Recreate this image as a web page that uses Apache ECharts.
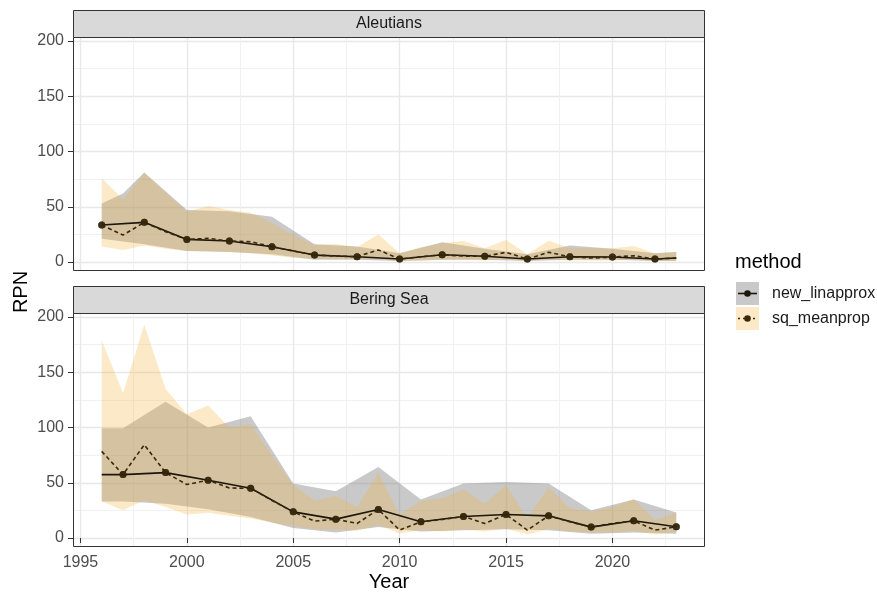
<!DOCTYPE html>
<html>
<head>
<meta charset="utf-8">
<script src="https://cdn.jsdelivr.net/npm/echarts@6/dist/echarts.min.js"></script>
<style>
  html, body { margin: 0; padding: 0; background: #ffffff; }
  #chart { width: 877px; height: 596px; }
</style>
</head>
<body>
<div id="chart"></div>
<script>
// ---- data ---------------------------------------------------------------
const YEARS = [1996, 1997, 1998, 1999, 2000, 2001, 2002, 2003, 2004, 2005,
               2006, 2007, 2008, 2009, 2010, 2011, 2012, 2013, 2014, 2015,
               2016, 2017, 2018, 2019, 2020, 2021, 2022, 2023];
const X_TICKS = [1995, 2000, 2005, 2010, 2015, 2020];
const Y_TICKS = [0, 50, 100, 150, 200];
const REGIONS = ['Aleutians', 'Bering Sea'];
const METHODS = ['new_linapprox', 'sq_meanprop'];

// survey years (observed points)
const aleuSurvey = [1996, 1998, 2000, 2002, 2004, 2006, 2008, 2010, 2012, 2014, 2016, 2018, 2020, 2022];
const beringSurvey = [1997, 1999, 2001, 2003, 2005, 2007, 2009, 2011, 2013, 2015, 2017, 2019, 2021, 2023];

// Aleutians, new_linapprox (null = no vertex in that year)
const aleuNew   = [33.5, null, 35.9, null, 20.5, null, 19.0, null, 13.9, null, 6.3, null, 4.8, null,
                   2.7, null, 6.6, null, 5.2, null, 2.7, null, 4.8, null, 4.5, null, 2.7, 3.6];
const aleuNewLo = [21, null, 16, null, 10, null, 9, null, 7, null, 2, null, 2, null,
                   1, null, 2, null, 2, null, 1, null, 2, null, 2, null, 1, 1];
const aleuNewHi = [53, 62, 81, null, 47, null, 46, null, 41, null, 16, null, 14, null,
                   8, null, 18, null, 12, null, 7, null, 15, null, 12, null, 8, 9];
// Aleutians, sq_meanprop
const aleuSq    = [33.5, 24.4, 35.9, 27.5, 20.5, 21.4, 19.0, 18.4, 13.9, 10, 6.3, 5.5, 4.8, 11,
                   2.7, 4.8, 6.6, 5.4, 5.2, 8.8, 2.7, 8.8, 4.8, 3.6, 4.5, 5.7, 2.7, 3.6];
const aleuSqLo  = [14, 11, 15, 12, 10, 10, 9, 8, 6, 4, 3, 3, 2.5, 2,
                   1, 1.5, 2, 2, 1.5, 2, 1, 2, 1.5, 1.5, 1.5, 2, 1, 1];
const aleuSqHi  = [75.7, 56.7, 80.8, 63, 45.5, 50.7, 47, 44.6, 35, 24.4, 15.4, 16.3, 13.3, 25,
                   7.9, 13.3, 16.9, 19, 12.4, 19.9, 7, 19.3, 12.4, 12.4, 12.4, 14.5, 7.9, 9.3];

// Bering Sea, new_linapprox
const berNew    = [57.4, 57.4, null, 59.2, null, 52.3, null, 45, null, 23.7, null, 17.1, null, 25.8,
                   null, 14.7, null, 19.5, null, 21.3, null, 20.1, null, 9.9, null, 15.6, null, 10.2];
const berNewLo  = [33, 33, null, 31, null, 26, null, 19, null, 9, null, 5, null, 10,
                   null, 6, null, 7, null, 8, null, 7, null, 4, null, 5, null, 4];
const berNewHi  = [99.4, 99.4, null, 123.4, null, 100, null, 110.2, null, 49.3, null, 42.3, null, 64.2,
                   null, 34.8, null, 49.3, null, 50.7, null, 49.3, null, 25.2, null, 34.8, null, 23.1];
// Bering Sea, sq_meanprop
const berSq     = [78.4, 57.4, 84.4, 59.2, 48.4, 52.3, 45.3, 45, 34, 23.7, 15.3, 17.1, 13.2, 25.8,
                   7.2, 14.7, 16.8, 19.5, 13.2, 21.3, 7.2, 20.1, 14.7, 9.9, 13.2, 15.6, 7.2, 10.2];
const berSqLo   = [33.3, 25.2, 34.2, 28.2, 21.3, 22.8, 20.1, 17.7, 14, 10.8, 7.8, 7.8, 6.6, 11.7,
                   4.2, 7.2, 6, 7.8, 6, 8.7, 3.3, 8.1, 6, 5.1, 5, 6.6, 3.3, 5.7];
const berSqHi   = [179, 131, 193, 135, 112, 120, 100, 103, 75, 48, 34, 38, 28, 59,
                   21, 34, 36, 44, 31, 48, 18, 46, 27, 24, 28, 35, 16, 23];

// ---- styling ------------------------------------------------------------
const FONT = '"Liberation Sans", Arial, sans-serif';
const GREY_FILL = 'rgba(120,120,120,0.40)';
const ORANGE_FILL = 'rgba(241,179,62,0.29)';
const NEW_COLOR = '#1c160c';
const SQ_COLOR = '#3a2909';
const X_MIN = 1994.65, X_MAX = 2024.35;
const Y_MIN = -8.1, Y_MAX = 203.6;

const PANEL_LEFT = 73, PANEL_W = 632, PANEL_H = 234;
const PANEL_TOPS = [37, 313];
const STRIP_H = 27;
const TEXT_SIZE = 16, TITLE_SIZE = 20;

// ---- builders -----------------------------------------------------------
function pairs(vals) { return YEARS.map((y, i) => [y, vals[i]]); }

function band(gi, lo, hi, fill, z) {
  return {
    type: 'custom', xAxisIndex: gi, yAxisIndex: gi, silent: true, z: z,
    data: YEARS.map((y, i) => [y, lo[i], hi[i]]),
    renderItem: function (params, api) {
      if (params.dataIndex !== 0) return null;
      const up = [], dn = [];
      YEARS.forEach((y, i) => {
        if (hi[i] != null) up.push(api.coord([y, hi[i]]));
        if (lo[i] != null) dn.push(api.coord([y, lo[i]]));
      });
      return { type: 'polygon', shape: { points: up.concat(dn.reverse()) }, style: { fill: fill } };
    }
  };
}

function line(gi, vals, color, dashed, z) {
  return {
    type: 'line', xAxisIndex: gi, yAxisIndex: gi, silent: true, z: z,
    data: pairs(vals), connectNulls: true, symbol: 'none',
    lineStyle: { color: color, width: 1.6, type: dashed ? [4, 3] : 'solid' }
  };
}

function points(gi, vals, survey, color, z) {
  return {
    type: 'scatter', xAxisIndex: gi, yAxisIndex: gi, silent: true, z: z,
    data: pairs(vals).filter(d => survey.includes(d[0]) && d[1] != null),
    symbol: 'circle', symbolSize: 7,
    itemStyle: { color: color }
  };
}

const panelData = [
  { survey: aleuSurvey, newV: aleuNew, newLo: aleuNewLo, newHi: aleuNewHi, sq: aleuSq, sqLo: aleuSqLo, sqHi: aleuSqHi },
  { survey: beringSurvey, newV: berNew, newLo: berNewLo, newHi: berNewHi, sq: berSq, sqLo: berSqLo, sqHi: berSqHi }
];

const grids = [], xAxes = [], yAxes = [], series = [], graphics = [];
const tickLabel = { color: '#4d4d4d', fontSize: TEXT_SIZE, fontFamily: FONT };
const majorGrid = { show: true, lineStyle: { color: '#e8e8e8', width: 1.4 } };
const minorGrid = { show: true, lineStyle: { color: '#efefef', width: 0.9 } };

panelData.forEach((p, gi) => {
  const top = PANEL_TOPS[gi];
  const bottomPanel = gi === panelData.length - 1;
  grids.push({ left: PANEL_LEFT, top: top, width: PANEL_W, height: PANEL_H, show: false });

  xAxes.push({
    type: 'value', gridIndex: gi, min: X_MIN, max: X_MAX,
    minInterval: 5, maxInterval: 5,
    axisLine: { show: false },
    axisTick: { show: bottomPanel, length: 5, customValues: X_TICKS,
                lineStyle: { color: '#333333', width: 1 } },
    axisLabel: Object.assign({ show: bottomPanel, margin: 8, customValues: X_TICKS,
                               formatter: v => String(v) }, tickLabel),
    splitLine: majorGrid,
    minorTick: { show: false, splitNumber: 2 },
    minorSplitLine: minorGrid
  });

  yAxes.push({
    type: 'value', gridIndex: gi, min: Y_MIN, max: Y_MAX,
    minInterval: 50, maxInterval: 50,
    axisLine: { show: false },
    axisTick: { show: true, length: 5, customValues: Y_TICKS,
                lineStyle: { color: '#333333', width: 1 } },
    axisLabel: Object.assign({ margin: 9, customValues: Y_TICKS,
                               formatter: v => String(v) }, tickLabel),
    splitLine: majorGrid,
    minorTick: { show: false, splitNumber: 2 },
    minorSplitLine: minorGrid
  });

  series.push(band(gi, p.newLo, p.newHi, GREY_FILL, 1));
  series.push(band(gi, p.sqLo, p.sqHi, ORANGE_FILL, 2));
  series.push(line(gi, p.newV, NEW_COLOR, false, 3));
  series.push(line(gi, p.sq, SQ_COLOR, true, 4));
  series.push(points(gi, p.newV, p.survey, NEW_COLOR, 5));
  series.push(points(gi, p.sq, p.survey, SQ_COLOR, 6));

  // panel border
  graphics.push({
    type: 'rect', z: 100, silent: true,
    shape: { x: PANEL_LEFT + 0.5, y: top + 0.5, width: PANEL_W - 1, height: PANEL_H - 1 },
    style: { fill: null, stroke: '#333333', lineWidth: 1 }
  });
  // strip
  graphics.push({
    type: 'rect', z: 100, silent: true,
    shape: { x: PANEL_LEFT + 0.5, y: top - STRIP_H + 0.5, width: PANEL_W - 1, height: STRIP_H },
    style: { fill: '#d9d9d9', stroke: '#333333', lineWidth: 1 }
  });
  graphics.push({
    type: 'text', z: 101, silent: true,
    x: PANEL_LEFT + PANEL_W / 2, y: top - STRIP_H / 2 + 0.5,
    style: { text: REGIONS[gi], fill: '#1a1a1a', font: TEXT_SIZE + 'px ' + FONT,
             textAlign: 'center', textVerticalAlign: 'middle' }
  });
});

// axis titles
graphics.push({
  type: 'text', silent: true, x: PANEL_LEFT + PANEL_W / 2, y: 582,
  style: { text: 'Year', fill: '#000000', font: TITLE_SIZE + 'px ' + FONT, textAlign: 'center', textVerticalAlign: 'middle' }
});
graphics.push({
  type: 'text', silent: true, x: 21, y: 292, rotation: Math.PI / 2,
  style: { text: 'RPN', fill: '#000000', font: TITLE_SIZE + 'px ' + FONT, textAlign: 'center', textVerticalAlign: 'middle' }
});

// legend
const LEG_X = 736, LEG_KEY = 23;
graphics.push({
  type: 'text', silent: true, x: LEG_X - 1, y: 262,
  style: { text: 'method', fill: '#000000', font: TITLE_SIZE + 'px ' + FONT, textVerticalAlign: 'middle' }
});
const legendKeys = [
  { fill: GREY_FILL, color: NEW_COLOR, dash: null },
  { fill: ORANGE_FILL, color: SQ_COLOR, dash: [2, 3] }
];
legendKeys.forEach((k, i) => {
  const ky = 282 + i * (LEG_KEY + 2);
  const cy = ky + LEG_KEY / 2;
  graphics.push({ type: 'rect', silent: true, shape: { x: LEG_X, y: ky, width: LEG_KEY, height: LEG_KEY },
                  style: { fill: '#ffffff' } });
  graphics.push({ type: 'rect', silent: true, shape: { x: LEG_X, y: ky, width: LEG_KEY, height: LEG_KEY },
                  style: { fill: k.fill } });
  graphics.push({ type: 'line', silent: true, shape: { x1: LEG_X + 2, y1: cy, x2: LEG_X + LEG_KEY - 2, y2: cy },
                  style: { stroke: k.color, lineWidth: 1.6, lineDash: k.dash } });
  graphics.push({ type: 'circle', silent: true, shape: { cx: LEG_X + LEG_KEY / 2, cy: cy, r: 3.3 },
                  style: { fill: k.color } });
  graphics.push({ type: 'text', silent: true, x: LEG_X + LEG_KEY + 13, y: cy,
                  style: { text: METHODS[i], fill: '#1a1a1a', font: TEXT_SIZE + 'px ' + FONT, textVerticalAlign: 'middle' } });
});

const chart = echarts.init(document.getElementById('chart'), null, { renderer: 'canvas' });
chart.setOption({
  animation: false,
  backgroundColor: '#ffffff',
  textStyle: { fontFamily: FONT },
  grid: grids,
  xAxis: xAxes,
  yAxis: yAxes,
  series: series,
  graphic: graphics
});
</script>
</body>
</html>
